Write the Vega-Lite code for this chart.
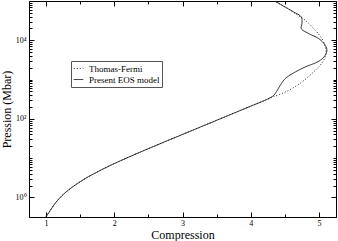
{
  "$schema": "https://vega.github.io/schema/vega-lite/v6.json",
  "width": 307,
  "height": 216,
  "autosize": {"type": "none"},
  "padding": {"left": 29, "top": 1, "right": 2, "bottom": 24},
  "background": "white",
  "config": {
    "view": {"stroke": "#000", "strokeWidth": 1},
    "axis": {
      "grid": false,
      "labelFont": "Liberation Serif",
      "titleFont": "Liberation Serif",
      "labelFontSize": 8,
      "titleFontSize": 12,
      "titleFontWeight": "normal",
      "labelColor": "#000",
      "titleColor": "#000",
      "domainColor": "#000",
      "tickColor": "#000",
      "tickWidth": 1
    },
    "legend": {
      "orient": "none",
      "legendX": 42,
      "legendY": 60,
      "symbolType": "stroke",
      "symbolStrokeColor": "#222",
      "symbolStrokeWidth": 1,
      "symbolSize": 90,
      "labelFont": "Liberation Serif",
      "labelFontSize": 9,
      "labelColor": "#000",
      "strokeColor": "#555",
      "fillColor": "white",
      "padding": 2,
      "rowPadding": 0,
      "labelOffset": 5
    }
  },
  "data": {"values": [
    {"model": "Thomas-Fermi", "i": 0, "c": 1.0, "p": 0.32},
    {"model": "Thomas-Fermi", "i": 1, "c": 1.06, "p": 0.457},
    {"model": "Thomas-Fermi", "i": 2, "c": 1.13, "p": 0.692},
    {"model": "Thomas-Fermi", "i": 3, "c": 1.22, "p": 1.047},
    {"model": "Thomas-Fermi", "i": 4, "c": 1.32, "p": 1.496},
    {"model": "Thomas-Fermi", "i": 5, "c": 1.42, "p": 2.018},
    {"model": "Thomas-Fermi", "i": 6, "c": 1.52, "p": 2.63},
    {"model": "Thomas-Fermi", "i": 7, "c": 1.62, "p": 3.35},
    {"model": "Thomas-Fermi", "i": 8, "c": 1.71, "p": 4.07},
    {"model": "Thomas-Fermi", "i": 9, "c": 1.85, "p": 5.43},
    {"model": "Thomas-Fermi", "i": 10, "c": 2.0, "p": 7.24},
    {"model": "Thomas-Fermi", "i": 11, "c": 2.2, "p": 10.38},
    {"model": "Thomas-Fermi", "i": 12, "c": 2.45, "p": 15.98},
    {"model": "Thomas-Fermi", "i": 13, "c": 2.7, "p": 24.32},
    {"model": "Thomas-Fermi", "i": 14, "c": 3.0, "p": 40.0},
    {"model": "Thomas-Fermi", "i": 15, "c": 3.25, "p": 60.5},
    {"model": "Thomas-Fermi", "i": 16, "c": 3.5, "p": 91.6},
    {"model": "Thomas-Fermi", "i": 17, "c": 3.75, "p": 138.7},
    {"model": "Thomas-Fermi", "i": 18, "c": 4.0, "p": 209.9},
    {"model": "Thomas-Fermi", "i": 19, "c": 4.165, "p": 275},
    {"model": "Thomas-Fermi", "i": 20, "c": 4.25, "p": 316},
    {"model": "Thomas-Fermi", "i": 21, "c": 4.33, "p": 363},
    {"model": "Thomas-Fermi", "i": 22, "c": 4.458, "p": 442},
    {"model": "Thomas-Fermi", "i": 23, "c": 4.604, "p": 589},
    {"model": "Thomas-Fermi", "i": 24, "c": 4.751, "p": 867},
    {"model": "Thomas-Fermi", "i": 25, "c": 4.897, "p": 1419},
    {"model": "Thomas-Fermi", "i": 26, "c": 4.996, "p": 2089},
    {"model": "Thomas-Fermi", "i": 27, "c": 5.069, "p": 3090},
    {"model": "Thomas-Fermi", "i": 28, "c": 5.103, "p": 4581},
    {"model": "Thomas-Fermi", "i": 29, "c": 5.092, "p": 6745},
    {"model": "Thomas-Fermi", "i": 30, "c": 5.044, "p": 11040},
    {"model": "Thomas-Fermi", "i": 31, "c": 4.946, "p": 17990},
    {"model": "Thomas-Fermi", "i": 32, "c": 4.799, "p": 32360},
    {"model": "Thomas-Fermi", "i": 33, "c": 4.653, "p": 47860},
    {"model": "Thomas-Fermi", "i": 34, "c": 4.506, "p": 70470},
    {"model": "Thomas-Fermi", "i": 35, "c": 4.35, "p": 100000},
    {"model": "Present EOS model", "i": 0, "c": 1.0, "p": 0.32},
    {"model": "Present EOS model", "i": 1, "c": 1.06, "p": 0.457},
    {"model": "Present EOS model", "i": 2, "c": 1.13, "p": 0.692},
    {"model": "Present EOS model", "i": 3, "c": 1.22, "p": 1.047},
    {"model": "Present EOS model", "i": 4, "c": 1.32, "p": 1.496},
    {"model": "Present EOS model", "i": 5, "c": 1.42, "p": 2.018},
    {"model": "Present EOS model", "i": 6, "c": 1.52, "p": 2.63},
    {"model": "Present EOS model", "i": 7, "c": 1.62, "p": 3.35},
    {"model": "Present EOS model", "i": 8, "c": 1.71, "p": 4.07},
    {"model": "Present EOS model", "i": 9, "c": 1.85, "p": 5.43},
    {"model": "Present EOS model", "i": 10, "c": 2.0, "p": 7.24},
    {"model": "Present EOS model", "i": 11, "c": 2.2, "p": 10.38},
    {"model": "Present EOS model", "i": 12, "c": 2.45, "p": 15.98},
    {"model": "Present EOS model", "i": 13, "c": 2.7, "p": 24.32},
    {"model": "Present EOS model", "i": 14, "c": 3.0, "p": 40.0},
    {"model": "Present EOS model", "i": 15, "c": 3.25, "p": 60.5},
    {"model": "Present EOS model", "i": 16, "c": 3.5, "p": 91.6},
    {"model": "Present EOS model", "i": 17, "c": 3.75, "p": 138.7},
    {"model": "Present EOS model", "i": 18, "c": 4.0, "p": 209.9},
    {"model": "Present EOS model", "i": 19, "c": 4.165, "p": 275},
    {"model": "Present EOS model", "i": 20, "c": 4.25, "p": 320},
    {"model": "Present EOS model", "i": 21, "c": 4.33, "p": 385},
    {"model": "Present EOS model", "i": 22, "c": 4.38, "p": 500},
    {"model": "Present EOS model", "i": 23, "c": 4.433, "p": 708},
    {"model": "Present EOS model", "i": 24, "c": 4.506, "p": 1057},
    {"model": "Present EOS model", "i": 25, "c": 4.653, "p": 1556},
    {"model": "Present EOS model", "i": 26, "c": 4.799, "p": 2089},
    {"model": "Present EOS model", "i": 27, "c": 4.946, "p": 2642},
    {"model": "Present EOS model", "i": 28, "c": 5.019, "p": 3090},
    {"model": "Present EOS model", "i": 29, "c": 5.092, "p": 4150},
    {"model": "Present EOS model", "i": 30, "c": 5.117, "p": 5560},
    {"model": "Present EOS model", "i": 31, "c": 5.092, "p": 7464},
    {"model": "Present EOS model", "i": 32, "c": 4.996, "p": 11040},
    {"model": "Present EOS model", "i": 33, "c": 4.849, "p": 14830},
    {"model": "Present EOS model", "i": 34, "c": 4.741, "p": 19860},
    {"model": "Present EOS model", "i": 35, "c": 4.751, "p": 26610},
    {"model": "Present EOS model", "i": 36, "c": 4.741, "p": 39260},
    {"model": "Present EOS model", "i": 37, "c": 4.629, "p": 52600},
    {"model": "Present EOS model", "i": 38, "c": 4.458, "p": 78000},
    {"model": "Present EOS model", "i": 39, "c": 4.35, "p": 100000}
  ]},
  "layer": [
    {
      "mark": {"type": "line", "clip": true, "color": "#222", "strokeWidth": 1, "interpolate": "catmull-rom"},
      "encoding": {
        "x": {
          "field": "c", "type": "quantitative",
          "scale": {"domain": [0.75, 5.25], "nice": false, "zero": false},
          "axis": {
            "orient": "bottom", "title": "Compression",
            "values": [1, 1.5, 2, 2.5, 3, 3.5, 4, 4.5, 5],
            "labelExpr": "datum.value % 1 === 0 ? format(datum.value, 'd') : ''",
            "tickSize": {"condition": {"test": "datum.value % 1 === 0", "value": -5}, "value": -3},
            "labelPadding": 7, "titlePadding": 2
          }
        },
        "y": {
          "field": "p", "type": "quantitative",
          "scale": {"type": "log", "domain": [0.316, 100000], "nice": false},
          "axis": {
            "orient": "left", "title": "Pression (Mbar)",
            "values": [1, 2, 3, 4, 5, 6, 7, 8, 9, 10, 20, 30, 40, 50, 60, 70, 80, 90, 100, 200, 300, 400, 500, 600, 700, 800, 900, 1000, 2000, 3000, 4000, 5000, 6000, 7000, 8000, 9000, 10000, 20000, 30000, 40000, 50000, 60000, 70000, 80000, 90000],
            "labelExpr": "datum.value === 1 ? '10⁰' : datum.value === 100 ? '10²' : datum.value === 10000 ? '10⁴' : ''",
            "tickSize": {"condition": {"test": "datum.value === 1 || datum.value === 100 || datum.value === 10000", "value": -5}, "value": -3},
            "labelPadding": 8, "titlePadding": 2
          }
        },
        "strokeDash": {
          "field": "model", "type": "nominal",
          "scale": {"domain": ["Thomas-Fermi", "Present EOS model"], "range": [[1, 2], [1, 0]]},
          "legend": {"title": null}
        },
        "order": {"field": "i", "type": "quantitative"}
      }
    },
    {
      "mark": {"type": "line", "clip": true, "strokeOpacity": 0},
      "encoding": {
        "x": {
          "field": "c", "type": "quantitative",
          "axis": {
            "orient": "top", "title": null, "labels": false,
            "values": [1, 1.5, 2, 2.5, 3, 3.5, 4, 4.5, 5],
            "tickSize": {"condition": {"test": "datum.value % 1 === 0", "value": -5}, "value": -3}
          }
        },
        "y": {
          "field": "p", "type": "quantitative",
          "axis": {
            "orient": "right", "title": null, "labels": false,
            "values": [1, 2, 3, 4, 5, 6, 7, 8, 9, 10, 20, 30, 40, 50, 60, 70, 80, 90, 100, 200, 300, 400, 500, 600, 700, 800, 900, 1000, 2000, 3000, 4000, 5000, 6000, 7000, 8000, 9000, 10000, 20000, 30000, 40000, 50000, 60000, 70000, 80000, 90000],
            "tickSize": {"condition": {"test": "datum.value === 1 || datum.value === 100 || datum.value === 10000", "value": -5}, "value": -3}
          }
        },
        "detail": {"field": "model", "type": "nominal"},
        "order": {"field": "i", "type": "quantitative"}
      }
    }
  ],
  "resolve": {"axis": {"x": "independent", "y": "independent"}}
}
